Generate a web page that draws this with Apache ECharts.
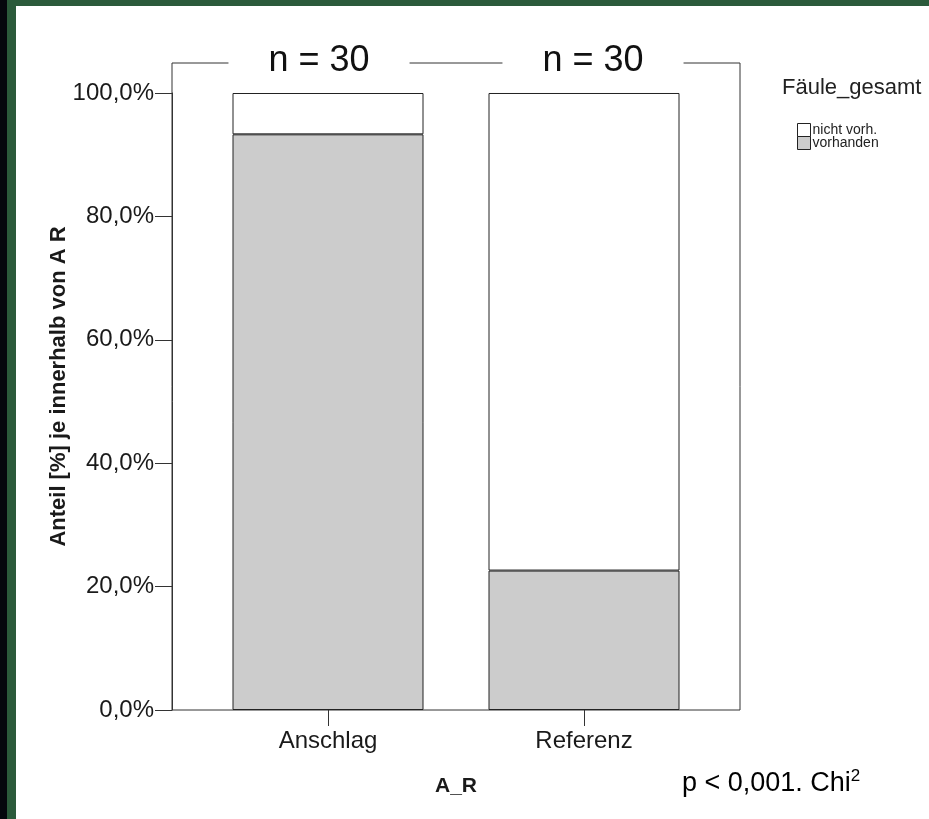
<!DOCTYPE html>
<html>
<head>
<meta charset="utf-8">
<script src="https://cdn.jsdelivr.net/npm/echarts@6/dist/echarts.min.js"></script>
<style>
html,body{margin:0;padding:0;background:#fff;}
#chart{position:absolute;left:0;top:0;width:929px;height:819px;}
.band{position:absolute;}
</style>
</head>
<body>
<div id="chart"></div>
<div class="band" style="left:0;top:0;width:929px;height:6px;background:#2b5a3b;"></div>
<div class="band" style="left:0;top:0;width:7px;height:819px;background:#05070d;"></div>
<div class="band" style="left:7px;top:6px;width:9px;height:813px;background:#2b5a3b;"></div>
<script>
// ---- data ----
const categories = ['Anschlag', 'Referenz'];
const seriesNames = ['nicht vorh.', 'vorhanden'];
const vorhanden = [93.3, 22.6];
const nichtVorh = [6.7, 77.4];
const nCounts = [30, 30];
const yTickValues = [0, 20, 40, 60, 80, 100];
const yTickLabels = ['0,0%', '20,0%', '40,0%', '60,0%', '80,0%', '100,0%'];
const legendTitle = 'Fäule_gesamt';
const yAxisTitle = 'Anteil [%] je innerhalb von A R';
const xAxisTitle = 'A_R';
const noteText = 'p < 0,001. Chi';
const noteSup = '2';

const FONT = '"Liberation Sans", Arial, Helvetica, sans-serif';
const labelOffsets = [[-9, 0], [9, 0]];

const chart = echarts.init(document.getElementById('chart'), null, {renderer: 'canvas'});
const option = {
  backgroundColor: '#ffffff',
  animation: false,
  textStyle: {fontFamily: FONT},
  title: {
    text: legendTitle,
    left: 782, top: 77, padding: 0,
    textStyle: {fontFamily: FONT, fontSize: 22, fontWeight: 'normal', color: '#222'}
  },
  legend: {
    orient: 'vertical',
    left: 797, top: 123, padding: 0,
    itemWidth: 13, itemHeight: 13, itemGap: -1,
    data: seriesNames,
    icon: 'rect',
    selectedMode: false,
    itemStyle: {borderColor: '#222', borderWidth: 1},
    textStyle: {fontFamily: FONT, fontSize: 14, color: '#222', padding: [0, 0, 0, -3]}
  },
  grid: [
    {left: 200, top: 93, width: 512, height: 617, show: false},
    {left: 172, top: 63, width: 568, height: 647, show: true, borderColor: '#333', borderWidth: 1, backgroundColor: 'transparent', z: 0}
  ],
  xAxis: [{
    type: 'category', gridIndex: 0,
    data: categories,
    axisLine: {show: false},
    axisTick: {show: true, alignWithLabel: true, length: 16, lineStyle: {color: '#333'}},
    axisLabel: {fontFamily: FONT, fontSize: 24, color: '#1a1a1a', margin: 19},
    name: xAxisTitle, nameLocation: 'middle', nameGap: 66, nameMoveOverlap: false,
    nameTextStyle: {fontFamily: FONT, fontSize: 21, fontWeight: 'bold', color: '#1a1a1a'},
    splitLine: {show: false}
  }],
  yAxis: [{
    type: 'value', gridIndex: 0,
    min: 0, max: 100, interval: 20, offset: 28,
    axisLine: {show: true, lineStyle: {color: '#333'}},
    axisTick: {show: true, length: 17, lineStyle: {color: '#333'}},
    axisLabel: {fontFamily: FONT, fontSize: 24, color: '#1a1a1a', margin: 18,
      formatter: v => yTickLabels[yTickValues.indexOf(v)]},
    splitLine: {show: false},
    name: yAxisTitle, nameLocation: 'middle', nameGap: 102, nameRotate: 90, nameMoveOverlap: false,
    nameTextStyle: {fontFamily: FONT, fontSize: 22, fontWeight: 'bold', color: '#1a1a1a', padding: [0, 0, 0, 30]}
  }],
  series: [
    {
      name: seriesNames[1], type: 'bar', stack: 'total',
      xAxisIndex: 0, yAxisIndex: 0,
      barWidth: 191,
      data: vorhanden,
      itemStyle: {color: '#cccccc', borderColor: '#222', borderWidth: 1}
    },
    {
      name: seriesNames[0], type: 'bar', stack: 'total',
      xAxisIndex: 0, yAxisIndex: 0,
      barWidth: 191,
      data: nichtVorh.map((v, i) => ({value: v, label: {offset: labelOffsets[i]}})),
      itemStyle: {color: '#ffffff', borderColor: '#222', borderWidth: 1},
      label: {
        show: true, position: 'top', distance: 12,
        formatter: p => 'n = ' + nCounts[p.dataIndex],
        fontFamily: FONT, fontSize: 36, lineHeight: 36, color: '#111',
        backgroundColor: '#ffffff', padding: [2, 40, 2, 40]
      }
    }
  ],
  graphic: [{
    type: 'text', left: 682, top: 768, z: 10,
    style: {
      text: '{a|' + noteText + '}{s|' + noteSup + '}',
      rich: {
        a: {fontFamily: FONT, fontSize: 27, color: '#111', lineHeight: 30},
        s: {fontFamily: FONT, fontSize: 17, color: '#111', lineHeight: 30, padding: [0, 0, 14, 0]}
      }
    }
  }]
};
chart.setOption(option);
</script>
</body>
</html>
